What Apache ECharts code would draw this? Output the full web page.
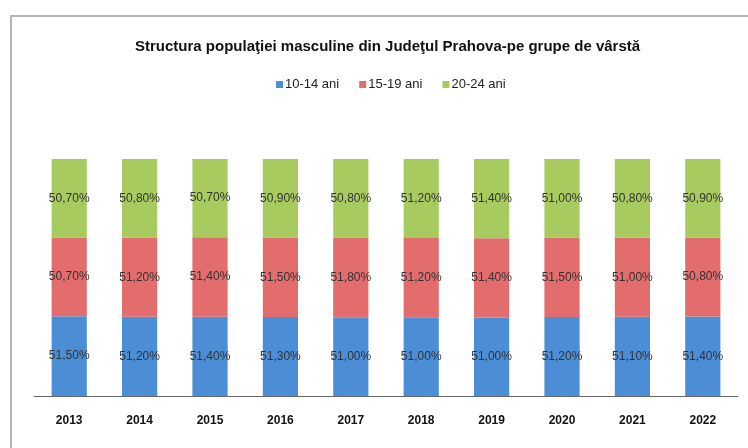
<!DOCTYPE html>
<html>
<head>
<meta charset="utf-8">
<script src="https://cdn.jsdelivr.net/npm/echarts@6/dist/echarts.min.js"></script>
<style>
  html, body { margin: 0; padding: 0; background: #fff; }
  #frame { position: absolute; left: 10px; top: 15px; width: 760px; height: 460px; border: 2px solid #b5b5b5; box-sizing: border-box; }
  #chart { position: absolute; left: 0; top: 0; width: 748px; height: 448px; }
</style>
</head>
<body>
<div id="frame"></div>
<div id="chart"></div>
<script>
// ani
var years = ['2013', '2014', '2015', '2016', '2017', '2018', '2019', '2020', '2021', '2022'];
// ponderea masculina pe grupe de varsta (%)
var grupa1014 = [51.5, 51.2, 51.4, 51.3, 51.0, 51.0, 51.0, 51.2, 51.1, 51.4];
var grupa1519 = [50.7, 51.2, 51.4, 51.5, 51.8, 51.2, 51.4, 51.5, 51.0, 50.8];
var grupa2024 = [50.7, 50.8, 50.7, 50.9, 50.8, 51.2, 51.4, 51.0, 50.8, 50.9];

var seriesNames = ['10-14 ani', '15-19 ani', '20-24 ani'];
var colors = ['#4b8ed6', '#e36c6c', '#a8cb60'];
var groups = [grupa1014, grupa1519, grupa2024];

// coloane 100% stivuite
var totals = years.map(function (y, i) {
    return grupa1014[i] + grupa1519[i] + grupa2024[i];
});

function fmt(v) {
    return v.toFixed(2).replace('.', ',') + '%';
}

var chart = echarts.init(document.getElementById('chart'));

chart.setOption({
    animation: false,
    title: {
        text: 'Structura populaţiei masculine din Judeţul Prahova-pe grupe de vârstă',
        left: 130,
        top: 34,
        textStyle: {
            fontFamily: 'Liberation Sans',
            fontSize: 15,
            fontWeight: 'bold',
            color: '#111'
        }
    },
    legend: {
        data: seriesNames,
        top: 73,
        left: 271,
        itemWidth: 7,
        itemHeight: 7,
        itemGap: 20,
        icon: 'rect',
        textStyle: {
            fontFamily: 'Liberation Sans',
            fontSize: 13,
            color: '#222',
            padding: [0, 0, 0, -3]
        }
    },
    grid: {
        left: 34,
        right: 10,
        top: 159,
        bottom: 52
    },
    xAxis: {
        type: 'category',
        data: years,
        axisTick: { show: false },
        axisLine: { lineStyle: { color: '#666', width: 1 } },
        axisLabel: {
            margin: 19,
            fontFamily: 'Liberation Sans',
            fontSize: 12,
            fontWeight: 'bold',
            color: '#111'
        }
    },
    yAxis: {
        type: 'value',
        min: 0,
        max: 100,
        show: false,
        splitLine: { show: false }
    },
    series: groups.map(function (vals, s) {
        return {
            name: seriesNames[s],
            type: 'bar',
            stack: 'total',
            barWidth: '50%',
            itemStyle: { color: colors[s] },
            label: {
                show: true,
                position: 'inside',
                fontFamily: 'Liberation Sans',
                fontSize: 12,
                color: '#333',
                formatter: function (p) {
                    return fmt(vals[p.dataIndex]);
                }
            },
            data: vals.map(function (v, i) {
                return v / totals[i] * 100;
            })
        };
    })
});
</script>
</body>
</html>
